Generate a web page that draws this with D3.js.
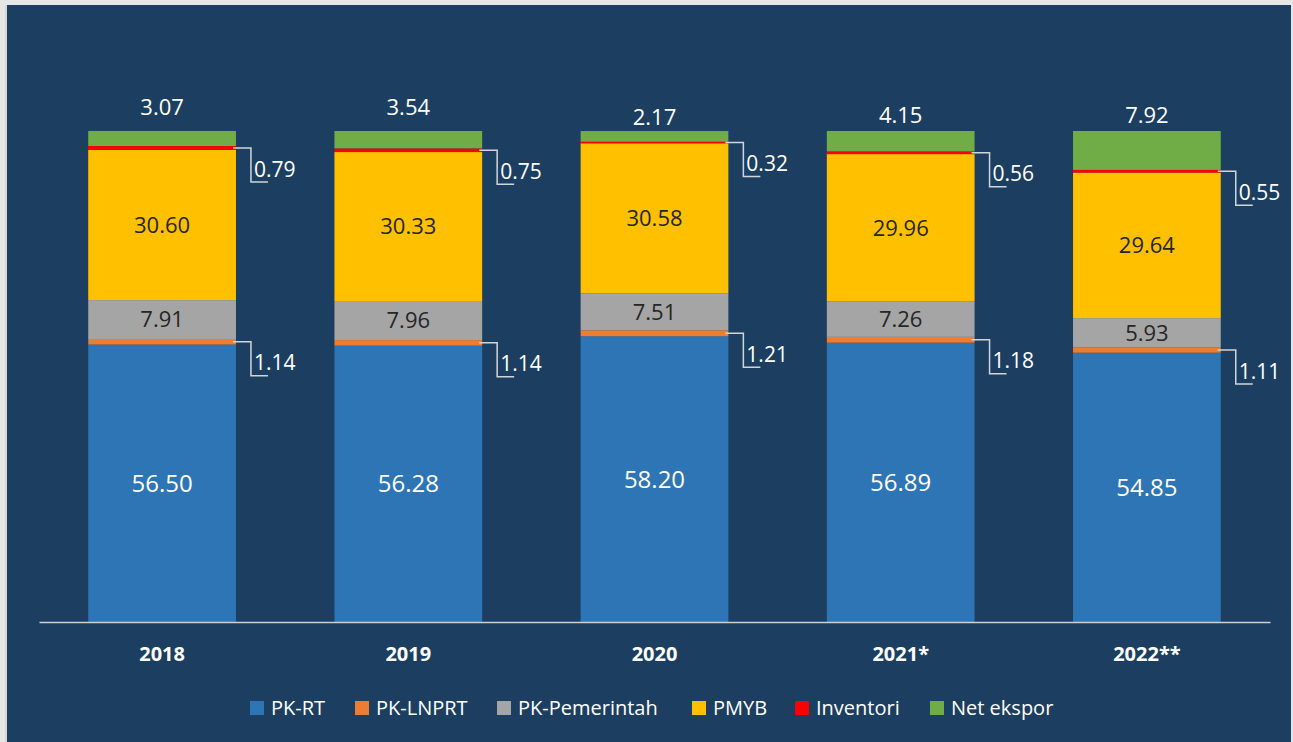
<!DOCTYPE html>
<html>
<head>
<meta charset="utf-8">
<script src="https://cdn.jsdelivr.net/npm/d3@7"></script>
<style>
  body { margin: 0; background: #e6e6e6; }
  svg { display: block; }
</style>
</head>
<body>
<script>
// chart values (percent share of GDP by expenditure)
var years     = ["2018", "2019", "2020", "2021*", "2022**"];
var pkRT      = [56.50, 56.28, 58.20, 56.89, 54.85];
var pkLNPRT   = [1.14, 1.14, 1.21, 1.18, 1.11];
var pkPem     = [7.91, 7.96, 7.51, 7.26, 5.93];
var pmyb      = [30.60, 30.33, 30.58, 29.96, 29.64];
var inventori = [0.79, 0.75, 0.32, 0.56, 0.55];
var netEkspor = [3.07, 3.54, 2.17, 4.15, 7.92];

var seriesNames  = ["PK-RT", "PK-LNPRT", "PK-Pemerintah", "PMYB", "Inventori", "Net ekspor"];
var seriesColors = ["#2e75b6", "#ed7d31", "#a5a5a5", "#ffc000", "#ff0000", "#70ad47"];

window.onload = function(){
    drawChart();
};

function drawChart(){
    var W = 1293, H = 742;
    var font = "'Open Sans', sans-serif";
    var svg = d3.select("body").append("svg").attr("width", W).attr("height", H);

    // light frame + navy plot background
    svg.append("rect").attr("width", W).attr("height", H).attr("fill", "#e6e6e6");
    svg.append("line").attr("x1", 6).attr("x2", 6).attr("y1", 5).attr("y2", H)
        .attr("stroke", "#c8c8c8").attr("stroke-width", 1);
    svg.append("rect").attr("x", 7).attr("y", 5).attr("width", 1284).attr("height", H - 5)
        .attr("fill", "#1c3f61");

    // build table for d3.stack
    var keys = ["pkRT", "pkLNPRT", "pkPem", "pmyb", "inventori", "netEkspor"];
    var cols = [pkRT, pkLNPRT, pkPem, pmyb, inventori, netEkspor];
    var table = years.map(function(y, i){
        var row = {year: y};
        keys.forEach(function(k, j){ row[k] = cols[j][i]; });
        return row;
    });
    var stacked = d3.stack().keys(keys)(table);

    var xScale = d3.scaleBand()
        .domain(years)
        .range([39, 1270])
        .paddingInner(0.4)
        .paddingOuter(0.2);

    var yScale = d3.scaleLinear()
        .domain([0, 100])
        .range([622, 131]);

    // bars
    var layers = svg.append("g").selectAll("g")
        .data(stacked)
        .enter().append("g")
        .attr("fill", function(d, i){ return seriesColors[i]; });

    layers.selectAll("rect")
        .data(function(d){ return d; })
        .enter().append("rect")
        .attr("x", function(d){ return xScale(d.data.year); })
        .attr("width", xScale.bandwidth())
        .attr("y", function(d){ return yScale(d[1]); })
        .attr("height", function(d){ return yScale(d[0]) - yScale(d[1]); });

    // x axis (line + year labels)
    var axis = svg.append("g")
        .attr("transform", "translate(0,622)")
        .call(d3.axisBottom(xScale).tickSize(0).tickSizeOuter(0).tickPadding(25));
    axis.select(".domain").attr("stroke", "#c9d0d8").attr("stroke-width", 1.5);
    axis.selectAll("text")
        .attr("fill", "#ffffff")
        .style("font-family", font)
        .style("font-size", "20px")
        .style("font-weight", "bold");

    // labels inside the bars
    function innerLabels(layerIdx, colour, size){
        svg.append("g").selectAll("text")
            .data(stacked[layerIdx])
            .enter().append("text")
            .attr("x", function(d){ return xScale(d.data.year) + xScale.bandwidth() / 2; })
            .attr("y", function(d){ return (yScale(d[0]) + yScale(d[1])) / 2; })
            .attr("dy", "0.36em")
            .attr("text-anchor", "middle")
            .attr("fill", colour)
            .style("font-family", font)
            .style("font-size", size + "px")
            .text(function(d){ return (d[1] - d[0]).toFixed(2); });
    }
    innerLabels(0, "#ffffff", 24);
    innerLabels(2, "#262626", 22);
    innerLabels(3, "#262626", 22);

    // net ekspor label above bar (gap above bar top differs per year, as in the original)
    var topGap = [24, 24, 14, 16, 16];
    svg.append("g").selectAll("text")
        .data(stacked[5])
        .enter().append("text")
        .attr("x", function(d){ return xScale(d.data.year) + xScale.bandwidth() / 2; })
        .attr("y", function(d, i){ return yScale(d[1]) - topGap[i]; })
        .attr("dy", "0.36em")
        .attr("text-anchor", "middle")
        .attr("fill", "#ffffff")
        .style("font-family", font)
        .style("font-size", "22px")
        .text(function(d){ return (d[1] - d[0]).toFixed(2); });

    // small segments: label to the right with a leader line
    function sideLabels(layerIdx){
        var seg = svg.append("g").selectAll("g")
            .data(stacked[layerIdx])
            .enter().append("g");
        seg.append("path")
            .attr("fill", "none")
            .attr("stroke", "#d0d5db")
            .attr("stroke-width", 1.5)
            .attr("d", function(d){
                var x0 = xScale(d.data.year) + xScale.bandwidth();
                var y0 = (yScale(d[0]) + yScale(d[1])) / 2;
                return "M" + (x0 - 3) + "," + y0 + "H" + (x0 + 15) + "V" + (y0 + 34) + "H" + (x0 + 32);
            });
        seg.append("text")
            .attr("x", function(d){ return xScale(d.data.year) + xScale.bandwidth() + 18; })
            .attr("y", function(d){ return (yScale(d[0]) + yScale(d[1])) / 2 + 21; })
            .attr("dy", "0.36em")
            .attr("fill", "#ffffff")
            .style("font-family", font)
            .style("font-size", "21px")
            .text(function(d){ return (d[1] - d[0]).toFixed(2); });
    }
    sideLabels(1);
    sideLabels(4);

    // legend
    var legendX = [250, 355, 497, 692, 795, 930];
    var legend = svg.append("g").selectAll("g")
        .data(seriesNames)
        .enter().append("g")
        .attr("transform", function(d, i){ return "translate(" + legendX[i] + ",708)"; });
    legend.append("rect")
        .attr("x", 0).attr("y", -7)
        .attr("width", 14).attr("height", 14)
        .attr("fill", function(d, i){ return seriesColors[i]; });
    legend.append("text")
        .attr("x", 21)
        .attr("dy", "0.36em")
        .attr("fill", "#ffffff")
        .style("font-family", font)
        .style("font-size", "20px")
        .text(function(d){ return d; });
}
</script>
</body>
</html>
